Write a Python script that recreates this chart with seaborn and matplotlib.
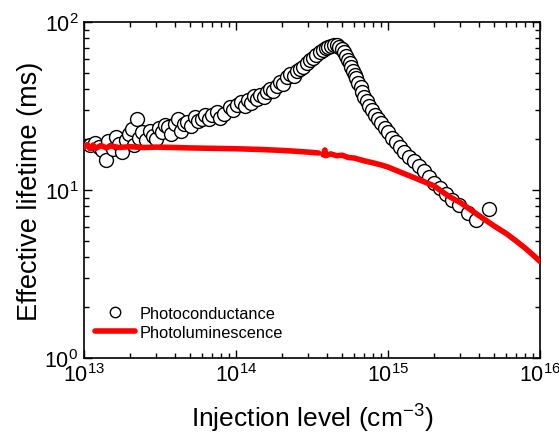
import numpy as np
import pandas as pd
import matplotlib
matplotlib.use("Agg")
import matplotlib.pyplot as plt
import seaborn as sns
from matplotlib.lines import Line2D
from matplotlib.ticker import LogLocator, LogFormatterSciNotation, NullFormatter

# Photoconductance (circles): injection level (cm^-3) vs effective lifetime (ms)
pc_injection = [
    1.10e13, 1.18e13, 1.25e13, 1.32e13, 1.40e13, 1.45e13, 1.55e13, 1.62e13, 1.70e13, 1.78e13,
    1.88e13, 1.97e13, 2.07e13, 2.15e13, 2.23e13, 2.32e13, 2.42e13, 2.55e13, 2.72e13, 2.85e13,
    3.00e13, 3.10e13, 3.25e13, 3.40e13, 3.57e13, 3.75e13, 3.95e13, 4.16e13, 4.35e13, 4.55e13,
    4.80e13, 5.05e13, 5.37e13, 5.65e13, 5.95e13, 6.30e13, 6.65e13, 7.00e13, 7.50e13, 7.90e13,
    8.40e13, 9.10e13, 9.60e13, 1.02e14, 1.08e14, 1.14e14, 1.20e14, 1.26e14, 1.32e14, 1.38e14,
    1.45e14, 1.52e14, 1.60e14, 1.68e14, 1.76e14, 1.85e14, 1.95e14, 2.05e14, 2.17e14, 2.28e14,
    2.40e14, 2.52e14, 2.65e14, 2.78e14, 2.92e14, 3.07e14, 3.22e14, 3.38e14, 3.57e14, 3.75e14,
    3.90e14, 4.03e14, 4.20e14, 4.40e14, 4.60e14, 4.80e14, 5.00e14, 5.15e14, 5.30e14, 5.45e14,
    5.60e14, 5.75e14, 5.90e14, 6.05e14, 6.20e14, 6.40e14, 6.60e14, 6.80e14, 7.00e14, 7.25e14,
    7.55e14, 7.85e14, 8.20e14, 8.60e14, 9.00e14, 9.50e14, 1.00e15, 1.06e15, 1.13e15, 1.20e15,
    1.28e15, 1.38e15, 1.48e15, 1.60e15, 1.72e15, 1.85e15, 2.02e15, 2.20e15, 2.40e15, 2.65e15,
    2.95e15, 3.35e15, 3.80e15, 4.60e15,
]
pc_lifetime = [
    18.5, 19.0, 18.0, 17.2, 15.0, 19.5, 17.5, 20.7, 18.8, 16.8,
    19.9, 21.5, 23.1, 18.5, 26.5, 20.5, 22.0, 19.8, 22.5, 21.0,
    20.2, 23.5, 22.0, 24.5, 23.8, 21.5, 24.8, 26.5, 22.5, 24.6,
    25.5, 24.0, 27.2, 25.8, 26.3, 27.8, 26.5, 28.0, 29.1, 26.8,
    28.5, 31.2, 30.0, 32.0, 33.4, 31.8, 34.5, 33.0, 36.3, 35.0,
    37.0, 36.0, 38.5, 40.0, 39.0, 41.6, 44.0, 43.0, 47.0, 49.0,
    48.0, 51.0, 52.5, 54.0, 57.0, 59.5, 61.0, 63.5, 66.0, 68.0,
    70.0, 71.5, 72.5, 73.5, 73.0, 71.5, 69.0, 66.0, 62.5, 59.5,
    57.0, 54.0, 51.0, 48.5, 46.5, 43.5, 41.0, 38.5, 36.0, 34.0,
    31.8, 30.0, 28.0, 26.5, 25.0, 23.3, 22.0, 20.5, 19.2, 18.0,
    16.9, 15.8, 14.9, 13.8, 12.9, 12.0, 11.0, 10.3, 9.4, 8.7,
    8.1, 7.3, 6.6, 7.7,
]

# Photoluminescence (red line), two segments with a small gap near 3.6e14
pl_injection = [
    1.00e13, 1.05e13, 1.10e13, 1.15e13, 1.20e13, 1.30e13, 1.40e13, 1.50e13, 1.70e13, 2.00e13,
    2.50e13, 3.00e13, 4.00e13, 5.00e13, 7.00e13, 1.00e14, 1.50e14, 2.00e14, 2.50e14, 3.00e14,
    3.50e14,
    3.75e14, 3.85e14, 3.90e14, 4.20e14, 4.60e14, 5.00e14, 5.50e14, 6.00e14, 7.00e14, 8.00e14,
    9.00e14, 1.00e15, 1.20e15, 1.50e15, 2.00e15, 2.50e15, 3.00e15, 4.00e15, 5.00e15, 6.00e15,
    7.00e15, 8.00e15, 9.00e15, 1.00e16,
]
pl_lifetime = [
    18.0, 18.6, 17.6, 18.5, 17.7, 18.4, 17.8, 18.3, 17.9, 18.1,
    17.9, 18.0, 17.9, 17.8, 17.7, 17.6, 17.4, 17.2, 17.0, 16.8,
    16.6,
    16.2, 17.3, 16.0, 16.4, 16.0, 16.1, 15.6, 15.5, 14.9, 14.5,
    14.1, 13.7, 12.8, 11.8, 10.6, 9.2, 8.4, 7.0, 6.1, 5.5,
    4.95, 4.5, 4.1, 3.75,
]
pl_segment = [0] * 21 + [1] * 24

sns.set_style("ticks")
plt.rcParams["font.family"] = ["Liberation Sans", "DejaVu Sans"]
plt.rcParams["mathtext.fontset"] = "custom"
plt.rcParams["mathtext.rm"] = "Liberation Sans"
plt.rcParams["mathtext.it"] = "Liberation Sans:italic"
plt.rcParams["text.color"] = "black"
plt.rcParams["axes.labelcolor"] = "black"
plt.rcParams["xtick.color"] = "black"
plt.rcParams["ytick.color"] = "black"
plt.rcParams["axes.edgecolor"] = "black"

pc = pd.DataFrame({"injection": pc_injection, "lifetime": pc_lifetime})
pl = pd.DataFrame({"injection": pl_injection, "lifetime": pl_lifetime, "seg": pl_segment})

fig = plt.figure(figsize=(5.59, 4.35), dpi=100)
ax = fig.add_axes([0.150, 0.175, 0.816, 0.772])

sns.scatterplot(data=pc, x="injection", y="lifetime", ax=ax, marker="o",
                s=100, facecolor="white", edgecolor="black", linewidth=1.0,
                legend=False, zorder=2)
sns.lineplot(data=pl, x="injection", y="lifetime", units="seg", estimator=None,
             sort=False, color="#ff0000", linewidth=4, ax=ax, legend=False,
             zorder=3)

ax.set_xscale("log")
ax.set_yscale("log")
ax.set_xlim(1e13, 1e16)
ax.set_ylim(1, 100)

for a in (ax.xaxis, ax.yaxis):
    a.set_major_locator(LogLocator(base=10, numticks=10))
    a.set_major_formatter(LogFormatterSciNotation())
    a.set_minor_locator(LogLocator(base=10, subs=np.arange(2, 10), numticks=20))
    a.set_minor_formatter(NullFormatter())

ax.tick_params(which="both", direction="in", top=True, right=True, width=1.0)
ax.tick_params(which="major", length=6, labelsize=15.5, pad=4)
ax.tick_params(which="minor", length=3.5)
for s in ax.spines.values():
    s.set_linewidth(1.2)

ax.set_xlabel("Injection level (cm$^{-3}$)", fontsize=19, labelpad=11)
ax.set_ylabel("Effective lifetime (ms)", fontsize=19.5, labelpad=1)

handles = [
    Line2D([], [], marker="o", linestyle="none", markerfacecolor="white",
           markeredgecolor="black", markersize=7.5, markeredgewidth=1.0),
    Line2D([], [], color="#ff0000", linewidth=4),
]
ax.legend(handles, ["Photoconductance", "Photoluminescence"], loc="lower left",
          frameon=False, fontsize=11.8, handlelength=2.4, handletextpad=0.3,
          labelspacing=0.25, borderaxespad=0.3, bbox_to_anchor=(0.0, 0.02))

fig.savefig("out.png", dpi=100)
